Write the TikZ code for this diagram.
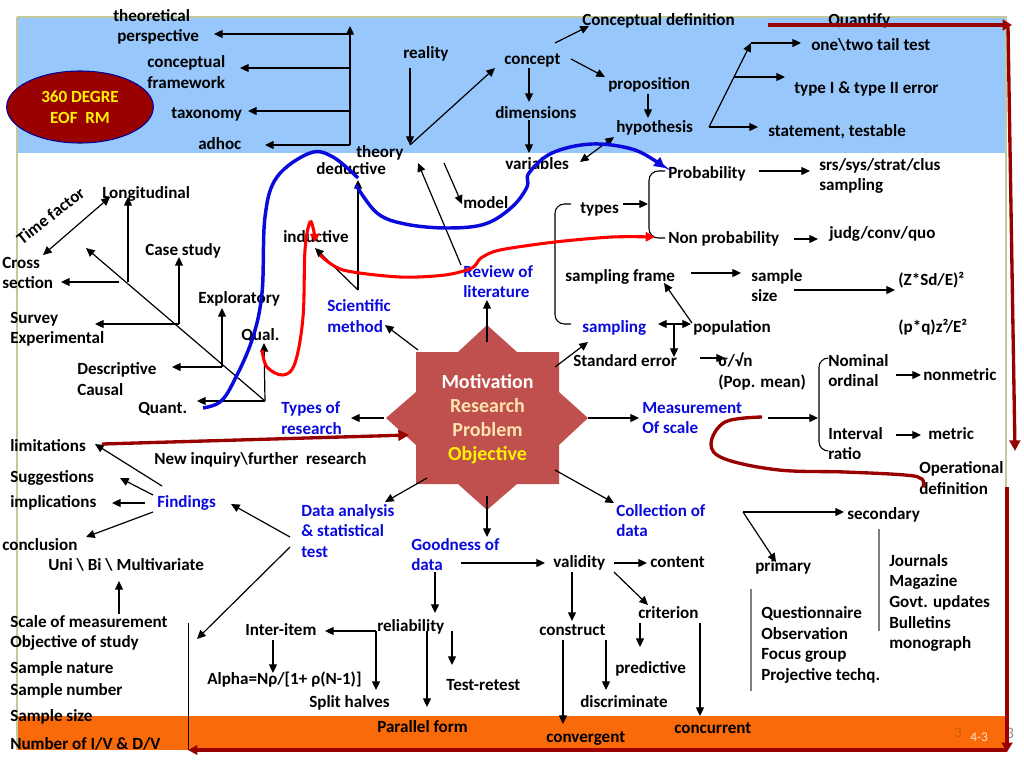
\documentclass[tikz,border=0pt]{standalone}
\usepackage{fontspec}
\setmainfont{Carlito}
\usetikzlibrary{arrows.meta,shapes.geometric}
\definecolor{bandblue}{HTML}{97C7FB}
\definecolor{bandorange}{HTML}{F96A0A}
\definecolor{framegreen}{HTML}{C3C99B}
\definecolor{deepred}{HTML}{990000}
\definecolor{linkblue}{HTML}{0A0ADC}
\definecolor{corered}{HTML}{C0504D}
\definecolor{corecream}{HTML}{FCE3B0}
\begin{document}
\begin{tikzpicture}[x=0.75pt,y=-0.75pt,
	lbl/.style={anchor=west, align=left, inner sep=0pt, yshift=-0.7pt, font=\fontsize{12.8}{15.5}\selectfont\bfseries, execute at begin node=\strut, execute at end node=\strut},
	bluelbl/.style={lbl, text=linkblue},
	mline/.style={yshift=-1.2pt},
	arr/.style={-{Triangle[length=6.5pt,width=6pt]}, line width=0.9pt},
	dblarr/.style={{Triangle[length=6.5pt,width=6pt]}-{Triangle[length=6.5pt,width=6pt]}, line width=0.9pt},
	bracket/.style={line width=0.8pt, rounded corners=7pt},
	greyline/.style={line width=0.9pt, draw=black!50},
	bluecurve/.style={draw=linkblue, line width=2.6pt},
	redcurve/.style={draw=red, line width=2.3pt},
	deepcurve/.style={draw=deepred, line width=2.5pt}]
	\useasboundingbox (0,0) rectangle (1024,768);

	% bands and frame
	\fill[bandblue] (17,17) rectangle (1006,153);
	\fill[bandorange] (17,716) rectangle (1006,750);
	\draw[framegreen, line width=0.8pt] (17,17) -- (1006,17) -- (1006,750);
	\draw[framegreen, line width=1.8pt] (17,17) -- (17,750);

	% centre star
	\fill[corered] (487,325) -- (517,352) -- (559,352) -- (559,392) -- (588,418) -- (559,445) -- (559,484) -- (517,484) -- (487,510) -- (458,484) -- (416,484) -- (416,445) -- (386,418) -- (416,392) -- (416,352) -- (458,352) -- cycle;
	\node[align=center, inner sep=0pt, font=\fontsize{15}{18}\selectfont\bfseries, text=white] (core) at (487.5,419) {Motivation\\\textcolor{corecream}{Research}\\\textcolor{corecream}{Problem}\\\textcolor{yellow}{Objective}};

	\node[ellipse, draw=blue!60!black, fill=deepred, line width=0.8pt, minimum width=110pt, minimum height=54pt, inner sep=0pt, align=center, text=yellow, font=\fontsize{12.8}{15.5}\selectfont\bfseries] (degree) at (80,107) {360 DEGRE\\EOF\ \ RM};

	% labels, upper band
	\node[lbl, mline] (perspective) at (113,26) {theoretical\\\hspace*{3pt}perspective};
	\node[lbl, mline] (framework) at (147,72.5) {conceptual\\framework};
	\node[lbl] (taxonomy) at (171,113) {taxonomy};
	\node[lbl] (adhoc) at (198,144) {adhoc};
	\node[lbl] (reality) at (403,53) {reality};
	\node[lbl] (concept) at (504,59) {concept};
	\node[lbl] (dimensions) at (495,113) {dimensions};
	\node[lbl] (condef) at (582,20) {Conceptual definition};
	\node[lbl] (quantify) at (828,20) {Quantify};
	\node[lbl] (tail) at (811,45) {one\textbackslash two tail test};
	\node[lbl] (proposition) at (608,84) {proposition};
	\node[lbl] (errors) at (794,88) {type I \& type II error};
	\node[lbl] (hypothesis) at (616,127) {hypothesis};
	\node[lbl] (testable) at (768,131) {statement, testable};

	% labels, left tree
	\node[lbl] (theory) at (356,152) {theory};
	\node[lbl] (deductive) at (316,169) {deductive};
	\node[lbl] (variables) at (505,164) {variables};
	\node[lbl] (model) at (463,203) {model};
	\node[lbl] (inductive) at (283,237) {inductive};
	\node[lbl] (longitudinal) at (102,193) {Longitudinal};
	\node[lbl, anchor=center, rotate=38] (timefactor) at (51.5,216) {Time factor};
	\node[lbl, mline] (cross) at (2,273.5) {Cross\\section};
	\node[lbl] (casestudy) at (145,250) {Case study};
	\node[lbl] (exploratory) at (198,298) {Exploratory};
	\node[lbl, mline] (survey) at (10,328.5) {Survey\\Experimental};
	\node[lbl] (qual) at (241,335) {Qual.};
	\node[lbl, mline] (descriptive) at (77,379.5) {Descriptive\\Causal};
	\node[lbl] (quant) at (138,408) {Quant.};
	\node[bluelbl, mline] (scientific) at (327,316.5) {Scientific\\method};
	\node[bluelbl, mline] (review) at (463,282) {Review of\\literature};
	\node[bluelbl, mline] (typesof) at (281,418.5) {Types of\\research};
	\node[bluelbl, mline] (measurement) at (642,418.5) {Measurement\\Of scale};

	% labels, right side
	\node[lbl] (probability) at (668,173) {Probability};
	\node[lbl, mline] (srs) at (819,175) {srs/sys/strat/clus\\sampling};
	\node[lbl] (types) at (580,208) {types};
	\node[lbl] (nonprob) at (668,238) {Non probability};
	\node[lbl] (judg) at (829,233) {judg/conv/quo};
	\node[lbl] (frame) at (565,276) {sampling frame};
	\node[lbl, mline] (samplesize) at (751,286) {sample\\size};
	\node[lbl] (zsd) at (898,280) {(Z*Sd/E)²};
	\node[bluelbl] (sampling) at (582,327) {sampling};
	\node[lbl] (population) at (693,327) {population};
	\node[lbl] (pq) at (898,327) {(p*q)z²/E²};
	\node[lbl] (stderror) at (573,361) {Standard error};
	\node[lbl, mline] (popmean) at (718,371) {σ/√n\\(Pop. mean)};
	\node[lbl, mline] (nominal) at (828,371) {Nominal\\ordinal};
	\node[lbl] (nonmetric) at (923,375) {nonmetric};
	\node[lbl, mline] (interval) at (828,444) {Interval\\ratio};
	\node[lbl] (metric) at (928,434) {metric};
	\node[lbl, mline] (operational) at (919,478.5) {Operational\\definition};

	% labels, lower half
	\node[lbl] (limitations) at (10,446) {limitations};
	\node[lbl] (inquiry) at (154,459) {New inquiry\textbackslash further\ \ research};
	\node[lbl] (suggestions) at (10,477) {Suggestions};
	\node[lbl] (implications) at (10,502) {implications};
	\node[bluelbl] (findings) at (157,502) {Findings};
	\node[lbl] (conclusion) at (2,545) {conclusion};
	\node[lbl] (multi) at (48,565) {Uni \textbackslash{} Bi \textbackslash{} Multivariate};
	\node[bluelbl, mline] (dataan) at (301,531.5) {Data analysis\\\& statistical\\test};
	\node[bluelbl, mline] (goodness) at (411,555) {Goodness of\\data};
	\node[bluelbl, mline] (collection) at (616,521) {Collection of\\data};
	\node[lbl] (validity) at (553,562) {validity};
	\node[lbl] (content) at (650,562) {content};
	\node[lbl] (primary) at (755,566) {primary};
	\node[lbl] (secondary) at (847,514) {secondary};
	\node[lbl, mline] (journals) at (889,602) {Journals\\Magazine\\Govt. updates\\Bulletins\\monograph};
	\node[lbl, mline] (question) at (761,644) {Questionnaire\\Observation\\Focus group\\Projective techq.};
	\node[lbl, mline] (scale) at (10,632) {Scale of measurement\\Objective of study};
	\node[lbl, mline] (nature) at (10,679) {Sample nature\\[1pt]Sample number};
	\node[lbl] (ssize) at (10,716) {Sample size};
	\node[lbl] (ivdv) at (10,744) {Number of I/V \& D/V};
	\node[lbl] (interitem) at (245,630) {Inter-item};
	\node[lbl] (reliability) at (377,626) {reliability};
	\node[lbl] (alpha) at (207,679) {Alpha=Nρ/[1+ ρ(N-1)]};
	\node[lbl] (split) at (309,702) {Split halves};
	\node[lbl] (retest) at (446,685) {Test-retest};
	\node[lbl] (parallel) at (377,727) {Parallel form};
	\node[lbl] (construct) at (539,630) {construct};
	\node[lbl] (criterion) at (638,613) {criterion};
	\node[lbl] (predictive) at (615,668) {predictive};
	\node[lbl] (discriminate) at (580,702) {discriminate};
	\node[lbl] (convergent) at (546,737) {convergent};
	\node[lbl] (concurrent) at (674,728) {concurrent};
	\node[anchor=center, inner sep=0pt, font=\fontsize{11}{12}\selectfont\rmfamily, text=bandorange!85!black] (slidea) at (958,733) {3};
	\node[anchor=west, inner sep=0pt, font=\fontsize{10}{11}\selectfont\rmfamily, text=orange!20] (slideno) at (970,737) {4-3};
	\node[anchor=center, inner sep=0pt, font=\fontsize{12}{13}\selectfont\rmfamily, text=black!45] (slideb) at (1010,733) {3};

	% free ends of the connectors
	\coordinate (spine) at (350,145); \coordinate (spinetop) at (350,26);
	\coordinate (b1) at (350,34); \coordinate (b1t) at (214,34);
	\coordinate (b2) at (350,68); \coordinate (b2t) at (240,68);
	\coordinate (b3) at (350,111); \coordinate (b3t) at (248,111);
	\coordinate (b4t) at (265,145);
	\coordinate (realitys) at (410,68); \coordinate (theoryn) at (410,145); \coordinate (conceptw) at (495,68);
	\coordinate (reviewn) at (461,265); \coordinate (theorys) at (418,163);
	\coordinate (models) at (444,163); \coordinate (modeln) at (462,204);
	\coordinate (method) at (358,290); \coordinate (deduct) at (358,180); \coordinate (induct) at (315,248);
	\coordinate (corenw) at (418,350); \coordinate (scie) at (385,325);
	\coordinate (coren) at (487,342); \coordinate (revs) at (487,300);
	\coordinate (corew) at (384,418); \coordinate (typee) at (351,418);
	\coordinate (coree) at (588,418); \coordinate (meas) at (639,418);
	\coordinate (coresw) at (427,478); \coordinate (dataw) at (385,502);
	\coordinate (cores) at (487,496); \coordinate (goodn) at (487,537);
	\coordinate (corese) at (555,470); \coordinate (colln) at (614,503);
	\coordinate (datafa) at (290,537); \coordinate (finde) at (231,504);
	\coordinate (datafb) at (290,547); \coordinate (biblio) at (197,639);
	\coordinate (rulea) at (188,623); \coordinate (ruleb) at (188,750);
	\coordinate (fa) at (162,486); \coordinate (fat) at (95,444);
	\coordinate (fb) at (153,495); \coordinate (fbt) at (120,478);
	\coordinate (fc) at (145,503); \coordinate (fct) at (112,503);
	\coordinate (fd) at (153,512); \coordinate (fdt) at (86,537);
	\coordinate (unis) at (119,614); \coordinate (unin) at (119,581);
	\coordinate (limstart) at (102,444); \coordinate (limend) at (409,435);
	\coordinate (root) at (265,401); \coordinate (roottop) at (86,248); \coordinate (qualt) at (264,343); \coordinate (quantt) at (197,401);
	\coordinate (expl) at (222,367); \coordinate (explt) at (222,308); \coordinate (desct) at (172,367);
	\coordinate (cases) at (179,324); \coordinate (caset) at (179,257); \coordinate (survt) at (95,324);
	\coordinate (long) at (128,282); \coordinate (longt) at (128,197); \coordinate (crossa) at (119,282); \coordinate (crosst) at (61,282);
	\coordinate (timea) at (43,255); \coordinate (timeb) at (110,197);
	\coordinate (bluea) at (203,408); \coordinate (blueb) at (358,178); \coordinate (bluec) at (356,185); \coordinate (blued) at (665,168);
	\coordinate (reda) at (262,350); \coordinate (redb) at (315,242); \coordinate (redc) at (320,255); \coordinate (redd) at (655,237);
	\coordinate (topa) at (768,25); \coordinate (topb) at (1012,25);
	\coordinate (righta) at (1008,27); \coordinate (rightb) at (1015,451);
	\coordinate (rightc) at (1007,487); \coordinate (rightd) at (1007,752); \coordinate (corner) at (1007,750); \coordinate (bottomt) at (188,750);
	\coordinate (opa) at (762,417); \coordinate (opb) at (923,487);
	\coordinate (scalein) at (768,418); \coordinate (scalebar) at (818,418);
	\coordinate (noma) at (896,375); \coordinate (nomb) at (921,375);
	\coordinate (inta) at (896,435); \coordinate (intb) at (921,435);
	\coordinate (typesa) at (623,204); \coordinate (typesb) at (648,204);
	\coordinate (proba) at (759,171); \coordinate (probb) at (810,171);
	\coordinate (npa) at (794,239); \coordinate (npb) at (818,239);
	\coordinate (fra) at (691,273); \coordinate (frb) at (741,273);
	\coordinate (ssa) at (794,290); \coordinate (ssb) at (895,290);
	\coordinate (popa) at (692,323); \coordinate (popb) at (664,283);
	\coordinate (spa) at (658,324); \coordinate (spb) at (691,324); \coordinate (spm) at (674,324); \coordinate (spd) at (674,357);
	\coordinate (corene) at (555,367); \coordinate (sampt) at (588,342);
	\coordinate (sea) at (700,358); \coordinate (seb) at (725,358);
	\coordinate (cdefa) at (555,43); \coordinate (cdefb) at (589,26);
	\coordinate (propa) at (571,59); \coordinate (propb) at (605,77);
	\coordinate (dima) at (529,68); \coordinate (dimb) at (529,102);
	\coordinate (vara) at (529,120); \coordinate (varb) at (529,153);
	\coordinate (hypa) at (648,94); \coordinate (hypb) at (648,118);
	\coordinate (hva) at (580,162); \coordinate (hvb) at (614,137);
	\coordinate (fork) at (709,127); \coordinate (forkt) at (751,43); \coordinate (tailt) at (801,43);
	\coordinate (forkm) at (734,77); \coordinate (errt) at (785,77); \coordinate (testt) at (758,127);
	\coordinate (gva) at (461,563); \coordinate (gvb) at (545,563);
	\coordinate (vca) at (614,563); \coordinate (vcb) at (647,563);
	\coordinate (vcoa) at (572,572); \coordinate (vcob) at (572,621);
	\coordinate (vcra) at (614,572); \coordinate (vcrb) at (648,605);
	\coordinate (cpa) at (640,623); \coordinate (cpb) at (640,647);
	\coordinate (cva) at (563,640); \coordinate (cvb) at (563,724);
	\coordinate (cda) at (606,640); \coordinate (cdb) at (606,690);
	\coordinate (cca) at (700,623); \coordinate (ccb) at (700,716);
	\coordinate (collfork) at (743,512); \coordinate (secw) at (844,512); \coordinate (primn) at (776,562);
	\coordinate (greya) at (751,589); \coordinate (greyb) at (751,691);
	\coordinate (greyc) at (879,529); \coordinate (greyd) at (879,631);
	\coordinate (gra) at (435,572); \coordinate (grb) at (435,613);
	\coordinate (relj) at (376,631); \coordinate (inte) at (325,631); \coordinate (splitn) at (376,690);
	\coordinate (iaa) at (273,640); \coordinate (iab) at (273,673);
	\coordinate (pfa) at (427,631); \coordinate (pfb) at (427,707);
	\coordinate (tra) at (452,631); \coordinate (trb) at (452,665);

	% upper band connectors
	\draw[arr] (spine) -- (spinetop);
	\draw[arr] (b1) -- (b1t);
	\draw[arr] (b2) -- (b2t);
	\draw[arr] (b3) -- (b3t);
	\draw[arr] (spine) -- (b4t);
	\draw[arr] (realitys) -- (theoryn);
	\draw[arr] (theoryn) -- (conceptw);
	\draw[arr] (cdefa) -- (cdefb);
	\draw[arr] (propa) -- (propb);
	\draw[arr] (dima) -- (dimb);
	\draw[arr] (vara) -- (varb);
	\draw[arr] (hypa) -- (hypb);
	\draw[dblarr] (hva) -- (hvb);
	\draw[arr] (fork) -- (forkt);
	\draw[arr] (forkt) -- (tailt);
	\draw[arr] (forkm) -- (errt);
	\draw[arr] (fork) -- (testt);

	% theory and left tree
	\draw[arr] (reviewn) -- (theorys);
	\draw[arr] (models) -- (modeln);
	\draw[arr] (method) -- (deduct);
	\draw[arr] (method) -- (induct);
	\draw[arr] (root) -- (roottop);
	\draw[arr] (root) -- (qualt);
	\draw[arr] (root) -- (quantt);
	\draw[arr] (expl) -- (explt);
	\draw[arr] (expl) -- (desct);
	\draw[arr] (cases) -- (caset);
	\draw[arr] (cases) -- (survt);
	\draw[arr] (long) -- (longt);
	\draw[arr] (crossa) -- (crosst);
	\draw[dblarr] (timea) -- (timeb);

	% out of the star
	\draw[arr] (corenw) -- (scie);
	\draw[arr] (coren) -- (revs);
	\draw[arr] (corew) -- (typee);
	\draw[arr] (coree) -- (meas);
	\draw[arr] (coresw) -- (dataw);
	\draw[arr] (cores) -- (goodn);
	\draw[arr] (corese) -- (colln);
	\draw[arr] (corene) -- (sampt);

	% findings
	\draw[arr] (datafa) -- (finde);
	\draw[arr] (datafb) -- (biblio);
	\draw[line width=0.7pt] (rulea) -- (ruleb);
	\draw[arr] (fa) -- (fat);
	\draw[arr] (fb) -- (fbt);
	\draw[arr] (fc) -- (fct);
	\draw[arr] (fd) -- (fdt);
	\draw[arr] (unis) -- (unin);

	% sampling side
	\draw[bracket] (665,171) -- (649,171) -- (649,238) -- (665,238);
	\draw[bracket] (571,204) -- (555,204) -- (555,324) -- (571,324);
	\draw[arr] (typesa) -- (typesb);
	\draw[arr] (proba) -- (probb);
	\draw[arr] (npa) -- (npb);
	\draw[arr] (fra) -- (frb);
	\draw[arr] (ssa) -- (ssb);
	\draw[arr] (popa) -- (popb);
	\draw[dblarr] (spa) -- (spb);
	\draw[arr] (spm) -- (spd);
	\draw[arr] (sea) -- (seb);

	% measurement side
	\draw[arr] (scalein) -- (scalebar);
	\draw[bracket] (828,358) -- (819,358) -- (819,451) -- (828,451);
	\draw[arr] (noma) -- (nomb);
	\draw[arr] (inta) -- (intb);

	% goodness of data
	\draw[arr] (gva) -- (gvb);
	\draw[arr] (vca) -- (vcb);
	\draw[arr] (vcoa) -- (vcob);
	\draw[arr] (vcra) -- (vcrb);
	\draw[arr] (cpa) -- (cpb);
	\draw[arr] (cva) -- (cvb);
	\draw[arr] (cda) -- (cdb);
	\draw[arr] (cca) -- (ccb);
	\draw[arr] (gra) -- (grb);
	\draw[arr] (relj) -- (inte);
	\draw[arr] (relj) -- (splitn);
	\draw[arr] (iaa) -- (iab);
	\draw[arr] (pfa) -- (pfb);
	\draw[arr] (tra) -- (trb);

	% data collection
	\draw[arr] (collfork) -- (secw);
	\draw[arr] (collfork) -- (primn);
	\draw[greyline] (greya) -- (greyb);
	\draw[greyline] (greyc) -- (greyd);

	% thick curves
	\draw[bluecurve] plot[smooth, tension=0.6] coordinates {(bluea) (220,402) (233,383) (252,340) (262,293) (265,217) (277,177) (310,153) (333,157) (blueb)};
	\draw[bluecurve, -{Triangle[length=8pt,width=8pt]}] plot[smooth, tension=0.6] coordinates {(bluec) (377,213) (405,224) (447,228) (485,224) (512,207) (527,187) (529,173) (552,153) (592,144) (635,150) (blued)};
	\draw[redcurve, -{Triangle[length=6pt,width=7pt]}] plot[smooth, tension=0.6] coordinates {(reda) (267,367) (283,375) (295,363) (303,317) (305,250) (310,222) (314,232) (redb)};
	\draw[redcurve, -{Triangle[length=7pt,width=7pt]}] plot[smooth, tension=0.5] coordinates {(redc) (343,270) (400,277) (445,275) (472,268) (481,258) (500,250) (555,242) (612,237) (redd)};
	\draw[deepcurve, -{Triangle[length=8pt,width=8pt]}] (limstart) -- (limend);
	\draw[deepcurve, -{Triangle[length=7pt,width=8pt]}] (topa) -- (topb);
	\draw[deepcurve, -{Triangle[length=8pt,width=8pt]}] (righta) -- (rightb);
	\draw[deepcurve, -{Triangle[length=7pt,width=8pt]}] (rightc) -- (rightd);
	\draw[deepcurve, -{Triangle[length=7pt,width=7pt]}] (corner) -- (bottomt);
	\draw[deepcurve] plot[smooth, tension=0.6] coordinates {(opa) (725,422) (711,444) (725,459) (779,470) (845,472) (905,475) (922,479) (opb)};
\end{tikzpicture}
\end{document}
